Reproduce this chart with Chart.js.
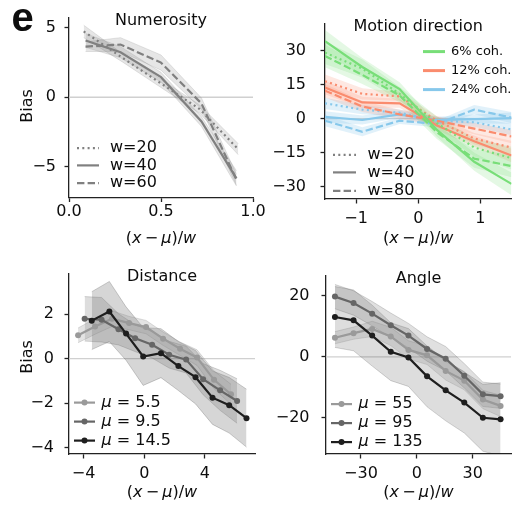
<!DOCTYPE html>
<html>
<head>
<meta charset="utf-8">
<script src="https://cdn.jsdelivr.net/npm/chart.js@4.4.1/dist/chart.umd.min.js"></script>
<style>
  body { margin: 0; background: #fff; }
  #wrap { position: relative; width: 516px; height: 508px; overflow: hidden; }
  canvas { position: absolute; }
</style>
</head>
<body>
<div id="wrap">
  <canvas id="numerosity" width="285" height="254" style="left:0;top:0"></canvas>
  <canvas id="motion" width="246" height="254" style="left:270px;top:0"></canvas>
  <canvas id="distance" width="285" height="254" style="left:0;top:254px"></canvas>
  <canvas id="angle" width="246" height="254" style="left:270px;top:254px"></canvas>
</div>
<script>
// ---- numerosity ----
const numXw20 = [0.08, 0.29, 0.5, 0.71, 0.92];
const numX = [0.09, 0.28, 0.5, 0.72, 0.91];
const numW20 = [4.75, 2.85, 1.0, -0.85, -3.75];
const numW40 = [4.1, 3.25, 1.45, -1.75, -5.85];
const numW60 = [3.65, 3.8, 2.5, -0.45, -5.95];
const numErr20 = [0.45, 0.3, 0.3, 0.3, 0.4];
const numErr40 = [0.5, 0.4, 0.35, 0.35, 0.55];
const numErr60 = [0.35, 0.5, 0.55, 0.4, 0.4];
const numXTicks = [0, 0.5, 1];
const numYTicks = [-5, 0, 5];
const numLegend = ["w=20", "w=40", "w=60"];

// ---- motion direction ----
const motX = [-1.5, -0.9, -0.3, 0.3, 0.9, 1.5];
const motGreen20 = [29.2, 22.2, 11, -2, -12.8, -17.5];
const motGreen40 = [34.3, 22.9, 13.1, -5, -19.1, -28.9];
const motGreen80 = [27.8, 19.4, 10.3, -6, -17.7, -21];
const motOrange20 = [16.6, 11.0, 9.9, -0.9, -8.8, -12.8];
const motOrange40 = [13.8, 7.2, 6.8, -3.0, -10.0, -16.3];
const motOrange80 = [12.4, 5.4, 1.9, -0.9, -4.4, -7.9];
const motBlue20 = [6.8, 4.0, 2.6, -0.9, -1.6, -4.8];
const motBlue40 = [0.8, -0.6, 1.9, -0.6, -0.2, 0.2];
const motBlue80 = [-0.9, -5.8, -0.9, -2.3, 4.0, 0.5];
const motGreenErr = [5, 4, 3, 3, 4, 5];
const motOrangeErr = [3, 2.5, 2, 2, 2.5, 3];
const motBlueErr = [2.5, 2, 1.5, 1.5, 2, 2.5];
const motXTicks = [-1, 0, 1];
const motYTicks = [-30, -15, 0, 15, 30];
const motCohLegend = ["6% coh.", "12% coh.", "24% coh."];
const motWLegend = ["w=20", "w=40", "w=80"];

// ---- distance ----
const distX55 = [-4.36, -3.24, -2.12, -1.0, 0.12, 1.24, 2.36, 3.48, 4.6, 5.72];
const distX95 = [-3.93, -2.81, -1.7, -0.6, 0.52, 1.64, 2.76, 3.88, 5.0, 6.12];
const distX145 = [-3.46, -2.3, -1.2, -0.07, 1.1, 2.25, 3.38, 4.5, 5.6, 6.74];
const dist55 = [1.05, 1.45, 1.8, 1.6, 1.42, 0.9, 0.45, 0.05, -0.95, -1.6];
const dist95 = [1.79, 1.75, 1.32, 0.92, 0.63, 0.18, -0.04, -0.92, -1.42, -1.9];
const dist145 = [1.71, 2.12, 1.13, 0.1, 0.25, -0.33, -0.83, -1.75, -2.09, -2.67];
const distErr55 = [0.33, 0.35, 0.35, 0.3, 0.3, 0.3, 0.3, 0.35, 0.4, 0.45];
const distErr95 = [1.0, 1.0, 0.7, 0.6, 0.6, 0.6, 0.6, 0.7, 0.9, 1.0];
const distErr145 = [1.3, 1.35, 1.2, 1.3, 1.1, 1.1, 1.2, 1.2, 1.25, 1.3];
const distXTicks = [-4, 0, 4];
const distYTicks = [-4, -2, 0, 2];
const distLegend = ["5.5", "9.5", "14.5"];

// ---- angle ----
const angX = [-44, -34, -24, -14, -4.5, 5.5, 15.5, 25.5, 35.5, 45];
const ang55 = [6.3, 7.8, 9.2, 6.7, 2.3, 0.5, -4.6, -7.8, -14.0, -16.1];
const ang95 = [19.8, 17.7, 14.2, 10.4, 7.0, 2.6, -0.6, -6.2, -12.3, -12.9];
const ang135 = [13.1, 12.0, 7.0, 1.7, -0.2, -6.4, -11.0, -15.0, -20.0, -20.5];
const angErr55 = [2, 2, 2.5, 3, 3, 3, 3, 3, 3, 3.5];
const angErr95 = [4, 4, 4, 4, 4, 4, 4, 4, 4, 4];
const angErr135 = [10, 10, 10, 9.5, 9.5, 10, 10, 10, 11, 12];
const angXTicks = [-30, 0, 30];
const angYTicks = [-20, 0, 20];
const angLegend = ["55", "95", "135"];

const FONT = "'DejaVu Sans'";
const SIZE = 16;
const DOT = [2, 3.3];
const DASH = [7.4, 3.2];
const GRAY = "#808080";
const GREEN = "rgb(120,222,120)";
const ORANGE = "rgb(250,140,110)";
const BLUE = "rgb(135,200,235)";
const LIGHT = "#9a9a9a";
const MID = "#666666";
const DARK = "#1e1e1e";

Chart.defaults.font.family = FONT;

function line(xs, ys, color, dash, marker) {
  return {
    data: xs.map((x, i) => ({ x, y: ys[i] })),
    borderColor: color,
    backgroundColor: color,
    borderWidth: 2.2,
    borderDash: dash,
    pointRadius: marker ? 3 : 0,
    pointBorderWidth: 0,
    fill: false,
    tension: 0,
    order: 0
  };
}

function band(xs, ys, err, fillColor, edgeColor) {
  const common = { borderColor: edgeColor, borderWidth: 0.8, pointRadius: 0, tension: 0, order: 1 };
  return [
    Object.assign({ data: xs.map((x, i) => ({ x, y: ys[i] + err[i] })), fill: "+1", backgroundColor: fillColor }, common),
    Object.assign({ data: xs.map((x, i) => ({ x, y: ys[i] - err[i] })), fill: false }, common)
  ];
}

const minus = v => String(v).replace("-", "\u2212");

function axis(min, max, tickVals, size, pad, fmt) {
  return {
    type: "linear",
    min, max,
    afterBuildTicks: s => { s.ticks = tickVals.map(v => ({ value: v })); },
    afterFit: s => { if (s.isHorizontal()) s.height = size; else s.width = size; },
    grid: { drawOnChartArea: false, drawTicks: true, tickLength: 4.5, tickWidth: 1.3, tickColor: "#222" },
    border: { display: true, color: "#222", width: 1.3 },
    ticks: { padding: pad, color: "#0d0d0d", font: { size: SIZE }, maxRotation: 0, autoSkip: false, callback: v => fmt(v) }
  };
}

function drawParts(ctx, parts, x, y, size, align) {
  const fonts = parts.map(p => (p[1] ? "oblique " : "") + size + "px " + FONT);
  const widths = parts.map((p, i) => { ctx.font = fonts[i]; return ctx.measureText(p[0]).width; });
  const total = widths.reduce((a, b) => a + b, 0);
  let cx = align === "center" ? x - total / 2 : x;
  ctx.textAlign = "left";
  ctx.textBaseline = "middle";
  parts.forEach((p, i) => { ctx.font = fonts[i]; ctx.fillText(p[0], cx, y); cx += widths[i]; });
}

const xLabel = [["(", 0], ["x", 1], ["\u2009\u2212\u2009", 0], ["\u03bc", 1], [")/", 0], ["w", 1]];

const decor = {
  id: "decor",
  beforeDatasetsDraw(chart) {
    const { ctx, chartArea: a, scales: { y } } = chart;
    const py = y.getPixelForValue(0);
    ctx.save();
    ctx.strokeStyle = "#d0d0d0";
    ctx.lineWidth = 1.3;
    ctx.beginPath();
    ctx.moveTo(a.left, py);
    ctx.lineTo(a.right, py);
    ctx.stroke();
    ctx.restore();
  },
  afterDraw(chart, args, o) {
    const { ctx, chartArea: a } = chart;
    const cx = (a.left + a.right) / 2;
    ctx.save();
    ctx.fillStyle = "#0d0d0d";
    drawParts(ctx, [[o.title, 0]], cx, a.top + 3, SIZE, "center");
    drawParts(ctx, xLabel, cx, a.bottom + o.xlabelDy, SIZE, "center");
    if (o.ylabelY) {
      ctx.save();
      ctx.translate(27.5, o.ylabelY);
      ctx.rotate(-Math.PI / 2);
      drawParts(ctx, [["Bias", 0]], 0, 0, SIZE, "center");
      ctx.restore();
    }
    if (o.letter) {
      ctx.font = "bold 40px 'Liberation Sans'";
      ctx.textAlign = "left";
      ctx.textBaseline = "alphabetic";
      ctx.fillText(o.letter, 11.5, 31);
    }
    (o.legends || []).forEach(lg => {
      lg.items.forEach((it, i) => {
        const y = a.top + lg.rows[i];
        const x0 = a.left + lg.x;
        ctx.save();
        ctx.strokeStyle = it.color;
        ctx.lineWidth = lg.lw;
        ctx.setLineDash(it.dash || []);
        ctx.beginPath();
        ctx.moveTo(x0, y);
        ctx.lineTo(x0 + lg.len, y);
        ctx.stroke();
        if (it.marker) {
          ctx.fillStyle = it.color;
          ctx.beginPath();
          ctx.arc(x0 + lg.len / 2, y, 3, 0, Math.PI * 2);
          ctx.fill();
        }
        ctx.fillStyle = "#0d0d0d";
        drawParts(ctx, it.text, x0 + lg.len + lg.gap, y, lg.size, "left");
        ctx.restore();
      });
    });
    ctx.restore();
  }
};

function options(scales, decorOpts, pad) {
  return {
    responsive: false,
    animation: false,
    layout: { padding: pad },
    scales,
    plugins: { legend: { display: false }, tooltip: { enabled: false }, decor: decorOpts }
  };
}

function wItems(labels) {
  const dashes = [DOT, [], DASH];
  return labels.map((l, i) => ({ text: [[l, 0]], color: GRAY, dash: dashes[i] }));
}
function muItems(labels, colors) {
  return labels.map((l, i) => ({ text: [["\u03bc", 1], [" = " + l, 0]], color: colors[i], marker: true }));
}

// Numerosity
new Chart(document.getElementById("numerosity"), {
  type: "line",
  data: { datasets: [
    line(numXw20, numW20, GRAY, DOT),
    line(numX, numW40, GRAY, []),
    line(numX, numW60, GRAY, DASH),
    ...band(numXw20, numW20, numErr20, "rgba(128,128,128,0.2)", "rgba(128,128,128,0.25)"),
    ...band(numX, numW40, numErr40, "rgba(128,128,128,0.2)", "rgba(128,128,128,0.25)"),
    ...band(numX, numW60, numErr60, "rgba(128,128,128,0.2)", "rgba(128,128,128,0.25)")
  ] },
  options: options(
    { x: axis(0, 1, numXTicks, 56.5, 0, v => v.toFixed(1)), y: axis(-7.23, 5.71, numYTicks, 69, 8.5, minus) },
    { title: "Numerosity", xlabelDy: 41.5, ylabelY: 106, letter: "e",
      legends: [{ x: 8, len: 22, gap: 11, lw: 2.2, size: SIZE, rows: [130, 147.3, 165], items: wItems(numLegend) }] },
    { top: 15, right: 32, left: 0, bottom: 0 }
  ),
  plugins: [decor]
});

// Motion direction
const motSets = [
  [motGreen20, motGreen40, motGreen80, GREEN, motGreenErr, "rgba(120,222,120,0.2)"],
  [motOrange20, motOrange40, motOrange80, ORANGE, motOrangeErr, "rgba(250,140,110,0.2)"],
  [motBlue20, motBlue40, motBlue80, BLUE, motBlueErr, "rgba(135,200,235,0.25)"]
];
const motLines = [];
const motBands = [];
motSets.forEach(([a, b, c, col, err, fillCol]) => {
  motLines.push(line(motX, a, col, DOT), line(motX, b, col, []), line(motX, c, col, DASH));
  motBands.push(...band(motX, a, err, fillCol, "rgba(0,0,0,0)"),
                ...band(motX, b, err, fillCol, "rgba(0,0,0,0)"),
                ...band(motX, c, err, fillCol, "rgba(0,0,0,0)"));
});
new Chart(document.getElementById("motion"), {
  type: "line",
  data: { datasets: [...motLines, ...motBands] },
  options: options(
    { x: axis(-1.5, 1.5, motXTicks, 55, 5.5, minus), y: axis(-35.6, 41.9, motYTicks, 55, 14.5, minus) },
    { title: "Motion direction", xlabelDy: 40.3,
      legends: [
        { x: 98, len: 22, gap: 6, lw: 3, size: 13, rows: [27.5, 46.5, 65.5],
          items: motCohLegend.map((l, i) => ({ text: [[l, 0]], color: [GREEN, ORANGE, BLUE][i] })) },
        { x: 8, len: 23, gap: 11.5, lw: 2.2, size: SIZE, rows: [130.7, 148.3, 166.7], items: wItems(motWLegend) }
      ] },
    { top: 15, right: 4.5, left: 0, bottom: 0 }
  ),
  plugins: [decor]
});

// Distance
new Chart(document.getElementById("distance"), {
  type: "line",
  data: { datasets: [
    line(distX145, dist145, DARK, [], true),
    line(distX95, dist95, MID, [], true),
    line(distX55, dist55, LIGHT, [], true),
    ...band(distX55, dist55, distErr55, "rgba(154,154,154,0.28)", "rgba(120,120,120,0.3)"),
    ...band(distX95, dist95, distErr95, "rgba(102,102,102,0.22)", "rgba(90,90,90,0.3)"),
    ...band(distX145, dist145, distErr145, "rgba(30,30,30,0.18)", "rgba(30,30,30,0.25)")
  ] },
  options: options(
    { x: axis(-4.96, 7.3, distXTicks, 54, 5.5, minus), y: axis(-4.28, 3.8, distYTicks, 69, 10.5, minus) },
    { title: "Distance", xlabelDy: 39.3, ylabelY: 103,
      legends: [{ x: 5, len: 21, gap: 6.5, lw: 2.2, size: SIZE, rows: [128.5, 147.5, 166.5], items: muItems(distLegend, [LIGHT, MID, DARK]) }] },
    { top: 16, right: 30, left: 0, bottom: 0 }
  ),
  plugins: [decor]
});

// Angle
new Chart(document.getElementById("angle"), {
  type: "line",
  data: { datasets: [
    line(angX, ang135, DARK, [], true),
    line(angX, ang95, MID, [], true),
    line(angX, ang55, LIGHT, [], true),
    ...band(angX, ang55, angErr55, "rgba(154,154,154,0.28)", "rgba(120,120,120,0.3)"),
    ...band(angX, ang95, angErr95, "rgba(102,102,102,0.2)", "rgba(90,90,90,0.3)"),
    ...band(angX, ang135, angErr135, "rgba(30,30,30,0.15)", "rgba(30,30,30,0.22)")
  ] },
  options: options(
    { x: axis(-48.8, 50.6, angXTicks, 54, 5.5, minus), y: axis(-31.9, 26.7, angYTicks, 56, 12, minus) },
    { title: "Angle", xlabelDy: 39.3,
      legends: [{ x: 5, len: 21, gap: 6.5, lw: 2.2, size: SIZE, rows: [128.5, 147.5, 166.5], items: muItems(angLegend, [LIGHT, MID, DARK]) }] },
    { top: 16, right: 5, left: 0, bottom: 0 }
  ),
  plugins: [decor]
});
</script>
</body>
</html>
